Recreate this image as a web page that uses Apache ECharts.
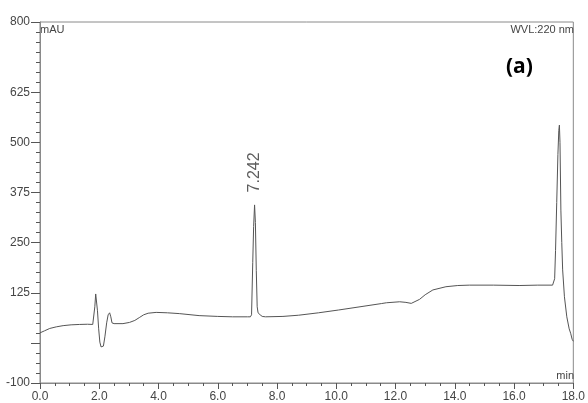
<!DOCTYPE html>
<html>
<head>
<meta charset="utf-8">
<script src="https://cdn.jsdelivr.net/npm/echarts@6/dist/echarts.min.js"></script>
<style>
html,body{margin:0;padding:0;background:#fff;}
#chart{width:588px;height:403px;}
</style>
</head>
<body>
<div id="chart"></div>
<script>
// Retention time (min)
var times = [0, 0.15, 0.33, 0.55, 0.78, 1.05, 1.34, 1.6, 1.78, 1.82, 1.85, 1.88, 1.91, 1.94, 1.98, 2.02, 2.06, 2.10, 2.14, 2.19, 2.25, 2.30, 2.35, 2.39, 2.43, 2.5, 2.8, 3.02, 3.2, 3.35, 3.5, 3.65, 3.92, 4.3, 4.7, 5.37, 6.0, 6.5, 7.0, 7.10, 7.14, 7.18, 7.21, 7.242, 7.27, 7.30, 7.33, 7.36, 7.43, 7.5, 7.61, 8.2, 8.73, 9.4, 10.08, 10.8, 11.52, 11.69, 12.14, 12.35, 12.53, 12.81, 13.0, 13.26, 13.7, 14.1, 14.49, 15.3, 16.17, 16.8, 17.3, 17.34, 17.37, 17.40, 17.44, 17.48, 17.51, 17.53, 17.55, 17.58, 17.61, 17.64, 17.70, 17.78, 17.86, 17.91, 17.96, 18.0];
// Absorbance (mAU)
var absorbance = [25, 30, 36, 40, 43, 45, 46, 46.5, 46, 48, 90, 122, 118, 80, 35, 2, -10, -13, -8, 15, 50, 70, 75, 65, 50, 48, 48, 51, 56, 63, 70, 74, 76, 75, 73, 68, 66, 65, 65, 65, 70, 200, 290, 344, 300, 180, 90, 75, 70, 66, 65, 66, 69, 75, 82, 90, 98, 100, 102.5, 101, 98.5, 108.5, 120, 132, 140, 143, 144, 144, 143, 144, 144, 147, 160, 230, 350, 470, 530, 543, 500, 331, 250, 182, 115, 65, 35, 24, 9, 4];
// Labelled peaks
var peakTimes = [7.242];
var peakHeights = [344];
// Axis tick labels
var xLabelValues = [0, 2, 4, 6, 8, 10, 12, 14, 16, 18];
var yLabelValues = [-100, 125, 250, 375, 500, 625, 800];
var yMajorTicks = [-100, 0, 125, 250, 375, 500, 625, 800];

var pts = times.map(function (t, i) { return [t, absorbance[i]]; });
var peakData = peakTimes.map(function (t, i) { return [t, peakHeights[i]]; });

var axisGray = '#8a8a8a';
var labelColor = '#454545';
var font = 'Liberation Sans, Arial, sans-serif';

var chart = echarts.init(document.getElementById('chart'), null, { renderer: 'canvas' });
chart.setOption({
  animation: false,
  backgroundColor: '#fff',
  grid: { left: 40, right: 12, top: 22, bottom: 20, show: true, borderColor: axisGray, borderWidth: 1 },
  xAxis: [{
    type: 'value', min: 0, max: 18, interval: 0.5,
    axisLine: { show: true, onZero: false, lineStyle: { color: axisGray, width: 1 } },
    axisTick: { show: true, length: 3, lineStyle: { color: '#555' } },
    splitLine: { show: false },
    axisLabel: {
      customValues: xLabelValues, margin: 8, fontSize: 12, color: labelColor, fontFamily: font,
      formatter: function (v) { return v.toFixed(1); }
    }
  }, {
    type: 'value', min: 0, max: 18, position: 'bottom', gridIndex: 0,
    axisLine: { show: false, onZero: false },
    axisTick: { show: true, length: 6, customValues: xLabelValues, lineStyle: { color: '#555' } },
    axisLabel: { show: false }, splitLine: { show: false }
  }],
  yAxis: [{
    type: 'value', min: -100, max: 800, interval: 25,
    axisLine: { show: true, onZero: false, lineStyle: { color: axisGray, width: 1 } },
    axisTick: { show: true, length: 4, lineStyle: { color: '#555' } },
    splitLine: { show: false },
    axisLabel: {
      customValues: yLabelValues, margin: 10, fontSize: 12, color: labelColor, fontFamily: font
    }
  }, {
    type: 'value', min: -100, max: 800, position: 'left', gridIndex: 0,
    axisLine: { show: false, onZero: false },
    axisTick: { show: true, length: 9, customValues: yMajorTicks, lineStyle: { color: '#555' } },
    axisLabel: { show: false }, splitLine: { show: false }
  }],
  series: [{
    type: 'line', data: pts, xAxisIndex: 0, yAxisIndex: 0,
    showSymbol: false, symbol: 'none', smooth: false,
    lineStyle: { color: '#555', width: 1 }
  }, {
    type: 'scatter', data: peakData, xAxisIndex: 0, yAxisIndex: 0,
    symbol: 'circle', symbolSize: 1, itemStyle: { color: 'rgba(0,0,0,0)' }, silent: true,
    label: {
      show: true, position: 'top', distance: 12, rotate: 90,
      align: 'left', verticalAlign: 'middle',
      fontSize: 16, color: '#333', fontFamily: font,
      formatter: function (p) { return p.value[0].toFixed(3); }
    }
  }],
  graphic: [
    { type: 'text', left: 40, top: 24, style: { text: 'mAU', fontSize: 11, fill: labelColor, fontFamily: font } },
    { type: 'text', right: 14, top: 24, style: { text: 'WVL:220 nm', fontSize: 11, fill: labelColor, fontFamily: font } },
    { type: 'text', left: 506, top: 57, style: { text: '(a)', fontSize: 21, fontWeight: 'bold', fill: '#000', fontFamily: 'Open Sans, sans-serif' } },
    { type: 'text', right: 14, top: 370, style: { text: 'min', fontSize: 11, fill: labelColor, fontFamily: font } }
  ]
});
</script>
</body>
</html>
